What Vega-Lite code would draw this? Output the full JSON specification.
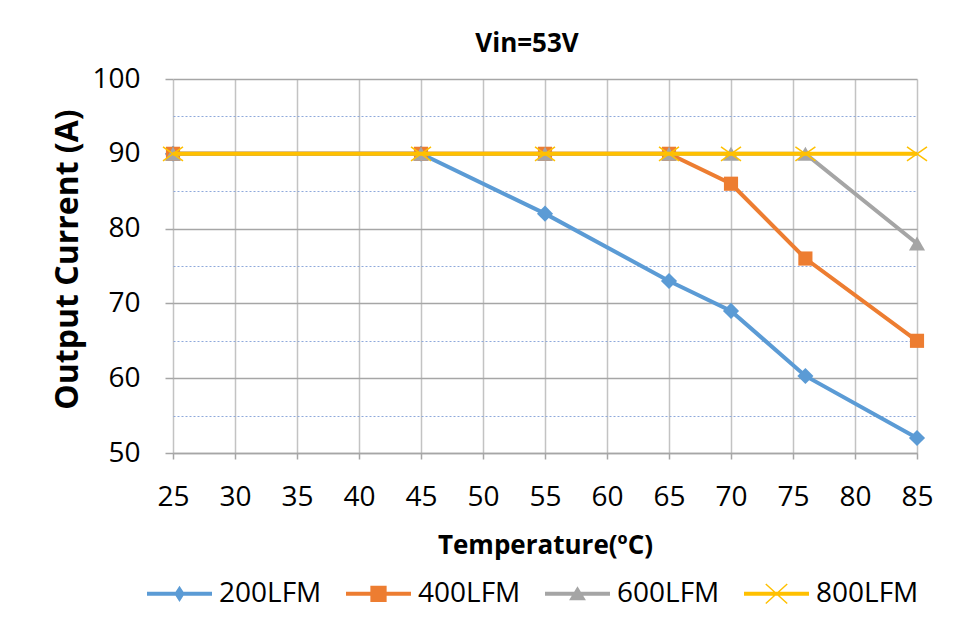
{
  "$schema": "https://vega.github.io/schema/vega-lite/v6.json",
  "width": 744,
  "height": 374,
  "autosize": {"type": "none"},
  "padding": {"left": 173, "top": 79, "right": 57, "bottom": 168},
  "background": "white",
  "title": {"text": "Vin=53V", "font": "Open Sans", "fontSize": 26, "fontWeight": "bold", "color": "#000000", "anchor": "middle", "offset": 8, "dx": -18},
  "config": {
    "view": {"stroke": null},
    "legend": {
      "title": null, "orient": "none", "direction": "horizontal",
      "legendX": -26, "legendY": 482, "padding": 0,
      "labelFont": "Open Sans", "labelFontSize": 28, "labelColor": "#000000",
      "labelOffset": 7, "columnPadding": 24,
      "symbolSize": 4225, "symbolStrokeWidth": 0
    }
  },
  "data": {"values": [
    {"t": 25, "a": 90, "series": "200LFM"},
    {"t": 45, "a": 90, "series": "200LFM"},
    {"t": 55, "a": 82, "series": "200LFM"},
    {"t": 65, "a": 73, "series": "200LFM"},
    {"t": 70, "a": 69, "series": "200LFM"},
    {"t": 76, "a": 60.3, "series": "200LFM"},
    {"t": 85, "a": 52, "series": "200LFM"},
    {"t": 25, "a": 90, "series": "400LFM"},
    {"t": 45, "a": 90, "series": "400LFM"},
    {"t": 55, "a": 90, "series": "400LFM"},
    {"t": 65, "a": 90, "series": "400LFM"},
    {"t": 70, "a": 86, "series": "400LFM"},
    {"t": 76, "a": 76, "series": "400LFM"},
    {"t": 85, "a": 65, "series": "400LFM"},
    {"t": 25, "a": 90, "series": "600LFM"},
    {"t": 45, "a": 90, "series": "600LFM"},
    {"t": 55, "a": 90, "series": "600LFM"},
    {"t": 65, "a": 90, "series": "600LFM"},
    {"t": 70, "a": 90, "series": "600LFM"},
    {"t": 76, "a": 90, "series": "600LFM"},
    {"t": 85, "a": 78, "series": "600LFM"},
    {"t": 25, "a": 90, "series": "800LFM"},
    {"t": 45, "a": 90, "series": "800LFM"},
    {"t": 55, "a": 90, "series": "800LFM"},
    {"t": 65, "a": 90, "series": "800LFM"},
    {"t": 70, "a": 90, "series": "800LFM"},
    {"t": 76, "a": 90, "series": "800LFM"},
    {"t": 85, "a": 90, "series": "800LFM"}
  ]},
  "encoding": {
    "x": {
      "field": "t", "type": "quantitative",
      "scale": {"domain": [25, 85], "nice": false, "zero": false},
      "axis": {
        "values": [25, 30, 35, 40, 45, 50, 55, 60, 65, 70, 75, 80, 85],
        "title": "Temperature(ºC)",
        "titleFont": "Open Sans", "titleFontSize": 26, "titleFontWeight": "bold", "titleColor": "#000000",
        "titleX": 372, "titleY": 100, "titleAlign": "center", "titleBaseline": "alphabetic",
        "labelFont": "Open Sans", "labelFontSize": 28, "labelColor": "#000000", "labelPadding": 24,
        "labelOverlap": false, "labelFlush": false,
        "tickSize": 6, "tickColor": "#A6A6A6", "tickWidth": 1.5,
        "domainColor": "#A6A6A6", "domainWidth": 1.5,
        "grid": true, "gridColor": "#C3C3C3", "gridWidth": 1.5
      }
    },
    "y": {
      "field": "a", "type": "quantitative",
      "scale": {"domain": [50, 100], "nice": false, "zero": false},
      "axis": {
        "values": [50, 55, 60, 65, 70, 75, 80, 85, 90, 95, 100],
        "labelExpr": "datum.value % 10 === 0 ? datum.label : ''",
        "title": "Output Current (A)",
        "titleFont": "Open Sans", "titleFontSize": 32, "titleFontWeight": "bold", "titleColor": "#000000",
        "titleX": -96, "titleY": 180, "titleAngle": -90, "titleAlign": "center", "titleBaseline": "alphabetic",
        "labelFont": "Open Sans", "labelFontSize": 28, "labelColor": "#000000", "labelPadding": 25,
        "labelOverlap": false, "labelFlush": false,
        "domain": false,
        "tickSize": 8, "tickColor": "#A6A6A6", "tickWidth": 1.5,
        "tickOpacity": {"condition": {"test": "datum.value % 10 !== 0", "value": 0}, "value": 1},
        "grid": true,
        "gridColor": {"condition": {"test": "datum.value % 10 !== 0", "value": "#8EA9DB"}, "value": "#A6A6A6"},
        "gridDash": {"condition": {"test": "datum.value % 10 !== 0", "value": [2, 2]}, "value": []},
        "gridWidth": {"condition": {"test": "datum.value % 10 !== 0", "value": 1}, "value": 1.5}
      }
    },
    "color": {
      "field": "series", "type": "nominal",
      "scale": {"domain": ["200LFM", "400LFM", "600LFM", "800LFM"], "range": ["#5B9BD5", "#ED7D31", "#A5A5A5", "#FFC000"]},
      "legend": {
        "encode": {
          "symbols": {
            "update": {
              "shape": {"signal": "datum.value === '200LFM' ? 'M-1,-0.06H1V0.06H-1Z M0,-0.25L0.16,0L0,0.25L-0.16,0Z' : datum.value === '400LFM' ? 'M-1,-0.06H1V0.06H-1Z M-0.25,-0.25H0.25V0.25H-0.25Z' : datum.value === '600LFM' ? 'M-1,-0.06H1V0.06H-1Z M0,-0.23L0.26,0.2L-0.26,0.2Z' : 'M-1,-0.06H1V0.06H-1Z M-0.315,-0.316L0.345,0.284L0.315,0.316L-0.345,-0.284Z M0.345,-0.284L-0.315,0.316L-0.345,0.284L0.315,-0.316Z'"},
              "fill": {"scale": "color", "field": "value"},
              "stroke": {"value": "transparent"},
              "strokeWidth": {"value": 0},
              "opacity": {"value": 1},
              "size": {"value": 4225}
            }
          }
        }
      }
    }
  },
  "layer": [
    {"transform": [{"filter": "datum.series === '200LFM'"}], "mark": {"type": "line", "strokeWidth": 4}},
    {"transform": [{"filter": "datum.series === '200LFM'"}], "mark": {"type": "point", "filled": true, "opacity": 1, "shape": "diamond", "size": 260}},
    {"transform": [{"filter": "datum.series === '400LFM'"}], "mark": {"type": "line", "strokeWidth": 4}},
    {"transform": [{"filter": "datum.series === '400LFM'"}], "mark": {"type": "point", "filled": true, "opacity": 1, "shape": "square", "size": 200}},
    {"transform": [{"filter": "datum.series === '600LFM'"}], "mark": {"type": "line", "strokeWidth": 4}},
    {"transform": [{"filter": "datum.series === '600LFM'"}], "mark": {"type": "point", "filled": true, "opacity": 1, "shape": "triangle-up", "size": 260}},
    {"transform": [{"filter": "datum.series === '800LFM'"}], "mark": {"type": "line", "strokeWidth": 4}},
    {"transform": [{"filter": "datum.series === '800LFM'"}], "mark": {"type": "point", "filled": false, "opacity": 1, "strokeWidth": 1.5, "shape": "M-1,-0.7L1,0.7M-1,0.7L1,-0.7", "size": 400}}
  ]
}
